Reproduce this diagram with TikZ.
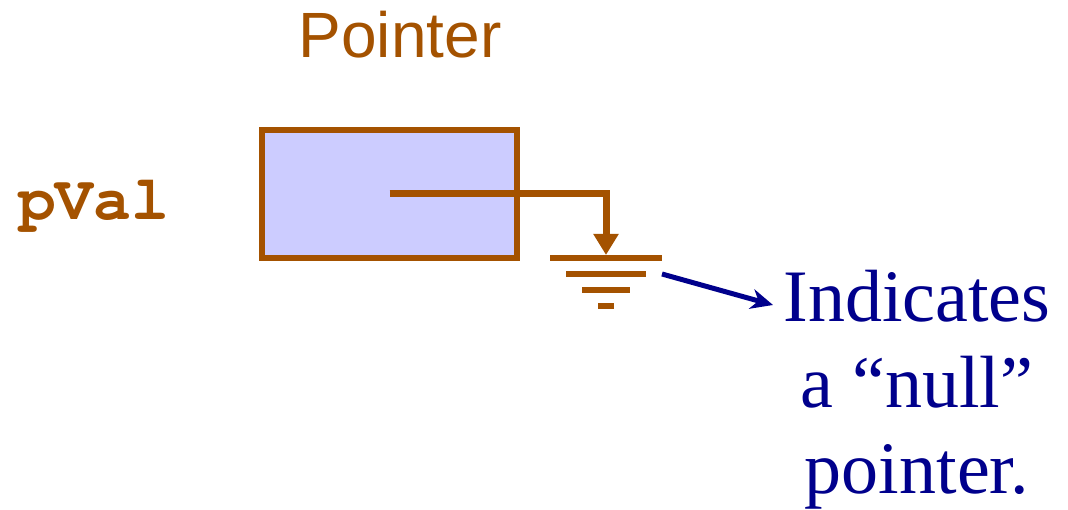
\documentclass[tikz,border=0pt]{standalone}
\usepackage{fontspec}
\setmainfont{Liberation Serif}
\newfontfamily\arialf{Liberation Sans}
\newfontfamily\courf{texgyrecursor}[Extension=.otf, UprightFont=*-regular, BoldFont=*-bold]
\usetikzlibrary{arrows.meta}
\definecolor{ptrbrown}{RGB}{164,82,0}
\definecolor{boxfill}{RGB}{204,204,255}
\definecolor{noteblue}{RGB}{0,0,140}
\tikzset{
  ptrbox/.style={draw=ptrbrown, fill=boxfill, line width=6pt, minimum width=255pt, minimum height=128pt, inner sep=0pt},
  ptrline/.style={draw=ptrbrown, line width=7pt},
  gnd/.style={draw=ptrbrown, line width=6pt},
  notearrow/.style={draw=noteblue, line width=5pt, -{Stealth[length=22pt,width=20pt,inset=7pt]}},
}
\begin{document}
\begin{tikzpicture}[x=1pt,y=-1pt]
\useasboundingbox (0,0) rectangle (1068,510);
\node[anchor=base, inner sep=0pt, text=ptrbrown, font=\arialf\fontsize{64}{70}\selectfont] (title) at (400,58) {Pointer};
\node[anchor=base west, inner sep=0pt, text=ptrbrown, font=\courf\bfseries\fontsize{63}{70}\selectfont] (pval) at (18,220) {pVal};
\node[ptrbox] (box) at (389.5,194) {};
\coordinate (gtop) at (606,255);
\coordinate (corner) at (606,194);
\draw[ptrline, -{Triangle[length=21pt,width=24pt]}] (box.center) -- (corner) -- (gtop);
\coordinate (g1a) at (550,258); \coordinate (g1b) at (662,258);
\coordinate (g2a) at (566,274); \coordinate (g2b) at (646,274);
\coordinate (g3a) at (582,290); \coordinate (g3b) at (630,290);
\coordinate (g4a) at (598,306); \coordinate (g4b) at (614,306);
\draw[gnd] (g1a) -- (g1b);
\draw[gnd] (g2a) -- (g2b);
\draw[gnd] (g3a) -- (g3b);
\draw[gnd] (g4a) -- (g4b);
\node[anchor=base, inner sep=0pt, align=center, text=noteblue, font=\fontsize{74}{86}\selectfont] (note) at (917,493) {Indicates\\a “null”\\pointer.};
\coordinate (nstart) at (662,274);
\coordinate (nend) at (773,305);
\draw[notearrow] (nstart) -- (nend);
\end{tikzpicture}
\end{document}
